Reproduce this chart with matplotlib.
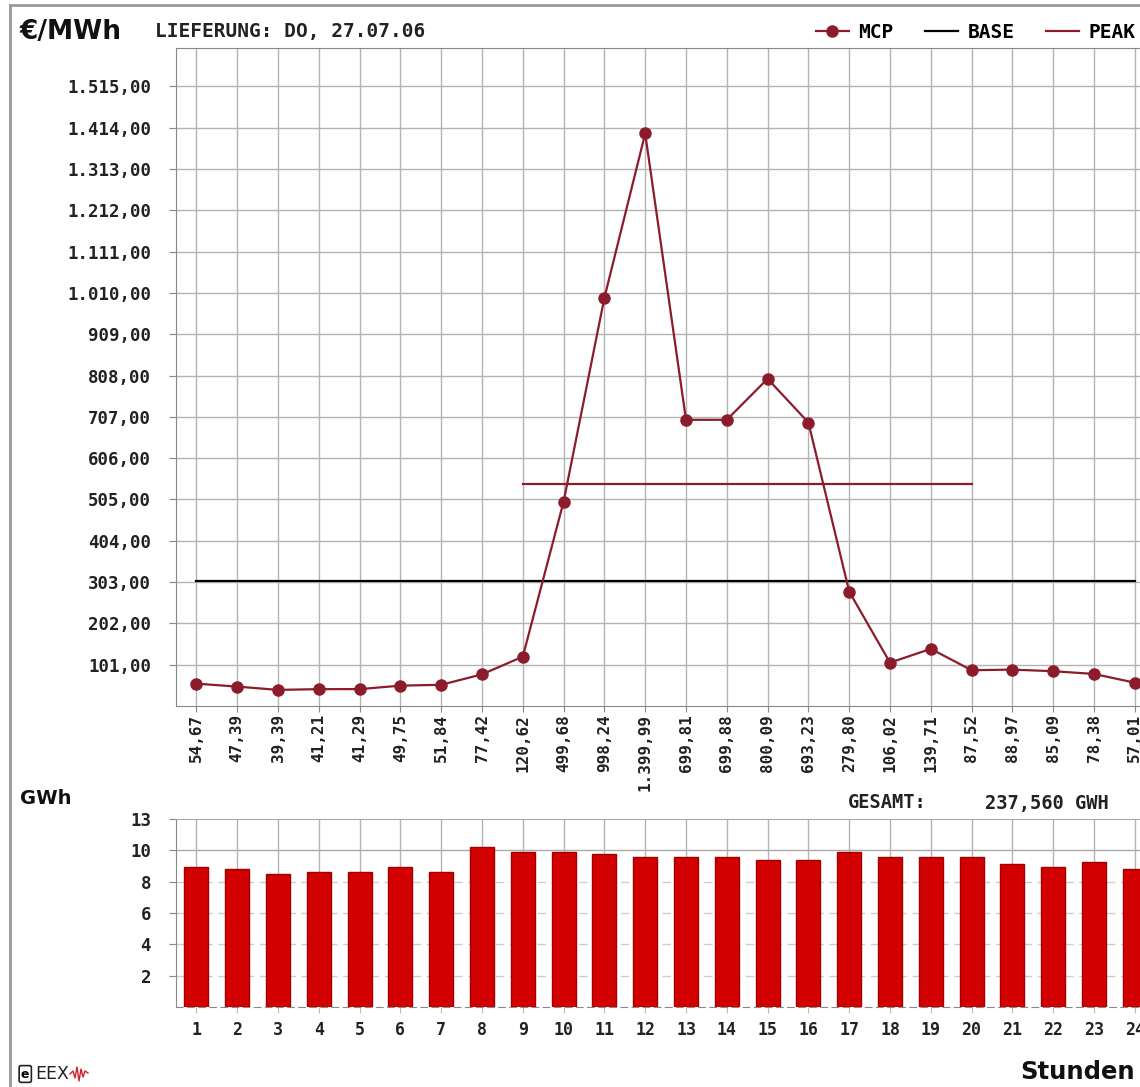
import numpy as np
import matplotlib
matplotlib.use("Agg")
import matplotlib.pyplot as plt
from matplotlib.lines import Line2D

# hourly market clearing price (EUR/MWh), delivery Thu 27.07.06
hours = list(range(1, 25))
mcp = [54.67, 47.39, 39.39, 41.21, 41.29, 49.75, 51.84, 77.42,
       120.62, 499.68, 998.24, 1399.99, 699.81, 699.88, 800.09, 693.23,
       279.80, 106.02, 139.71, 87.52, 88.97, 85.09, 78.38, 57.01]
base_price = 305.0
peak_price = 543.72
peak_hours = [9, 20]

# hourly volume (GWh)
volume = [8.95, 8.8, 8.5, 8.63, 8.63, 8.95, 8.63, 10.2,
          9.9, 9.9, 9.78, 9.6, 9.6, 9.6, 9.4, 9.4,
          9.9, 9.6, 9.6, 9.6, 9.1, 8.95, 9.27, 8.8]
price_ticks = [101 * i for i in range(1, 16)]
vol_ticks = [2, 4, 6, 8, 10, 12]
vol_tick_labels = ["2", "4", "6", "8", "10", "13"]
total_label = "GESAMT:"
total_value = "237,560 GWH"
date_text = "LIEFERUNG: DO, 27.07.06"

MONO = "DejaVu Sans Mono"
DARK_RED = "#8c1c2c"
RED = "#d20000"
GRID = "#b4b4b4"
TXT = "#222222"


def de(v, d=2):
    s = f"{v:,.{d}f}"
    return s.replace(",", "X").replace(".", ",").replace("X", ".")


W, H = 1140, 1087
fig = plt.figure(figsize=(W / 100, H / 100), dpi=100)

# ---- price chart
ax = fig.add_axes([176 / W, 1 - 706 / H, 1 - 176 / W, (706 - 48) / H])
ax.set_xlim(0.5, 0.5 + (W - 176) / 40.8)
ax.set_ylim(0, 1609)
ax.set_xticks(hours)
ax.set_xticklabels([de(v) for v in mcp], rotation=90, fontfamily=MONO,
                   fontsize=11.5, fontweight="bold", color=TXT)
ax.set_yticks(price_ticks)
ax.set_yticklabels([de(v) for v in price_ticks], fontfamily=MONO,
                   fontsize=12.5, fontweight="bold", color=TXT)
ax.tick_params(axis="y", length=5, pad=13, color="#888888")
ax.tick_params(axis="x", length=4, pad=2, color="#888888")
ax.grid(True, color=GRID, linewidth=1)
ax.set_axisbelow(True)
for side in ["left", "bottom", "top"]:
    ax.spines[side].set_color("#888888")
ax.spines["right"].set_visible(False)

ax.plot([hours[0], hours[-1]], [base_price, base_price], color="black", lw=1.6)
ax.plot(peak_hours, [peak_price, peak_price], color=DARK_RED, lw=1.6)
ax.plot(hours, mcp, color=DARK_RED, lw=1.6, marker="o", markersize=8,
        markerfacecolor=DARK_RED, markeredgecolor=DARK_RED, clip_on=False)

# ---- volume chart
bx = fig.add_axes([176 / W, 1 - 1007 / H, 1 - 176 / W, (1007 - 819) / H])
bx.set_xlim(ax.get_xlim())
bx.set_ylim(0, 12)
bx.bar(hours, volume, width=0.59, color=RED, edgecolor="#a00000", linewidth=1, zorder=3)
bx.set_xticks(hours)
bx.set_xticklabels([str(h) for h in hours], fontfamily=MONO, fontsize=12,
                   fontweight="bold", color=TXT)
bx.set_yticks(vol_ticks)
bx.set_yticklabels(vol_tick_labels, fontfamily=MONO, fontsize=12.5,
                   fontweight="bold", color=TXT)
bx.tick_params(axis="y", length=5, pad=13, color="#888888")
bx.tick_params(axis="x", length=4, pad=6, color="#bbbbbb")
bx.grid(True, axis="x", color=GRID, linewidth=1, zorder=0)
for v in vol_ticks[:-2]:
    bx.axhline(v, color="#cccccc", lw=1, ls=(0, (6, 4)), zorder=0)
bx.axhline(10, color="#aaaaaa", lw=1, zorder=0)
bx.spines["top"].set_color("#aaaaaa")
bx.spines["left"].set_color("#888888")
bx.spines["bottom"].set_color("#888888")
bx.spines["bottom"].set_linestyle((0, (6, 4)))
bx.spines["right"].set_visible(False)

# ---- texts
fig.text(20 / W, 1 - 32 / H, "€/MWh", fontsize=19, fontweight="bold", va="center", color="#111111")
fig.text(155 / W, 1 - 32 / H, date_text, fontfamily=MONO, fontsize=14,
         fontweight="bold", va="center", color=TXT)
fig.text(20 / W, 1 - 798 / H, "GWh", fontsize=14, fontweight="bold", va="center", color="#111111")
fig.text(848 / W, 1 - 803 / H, total_label, fontfamily=MONO, fontsize=13.5,
         fontweight="bold", va="center", color=TXT)
fig.text(985 / W, 1 - 803 / H, total_value, fontfamily=MONO, fontsize=13.5,
         fontweight="bold", va="center", color=TXT)
fig.text(1020 / W, 1 - 1072 / H, "Stunden", fontsize=17.5, fontweight="bold", va="center", color="#111111")
fig.text(21 / W, 1 - 1074 / H, "e", fontsize=9, fontweight="bold", va="center",
         bbox=dict(boxstyle="round,pad=0.15", fc="white", ec="#222222", lw=1.2))
fig.text(35 / W, 1 - 1074 / H, "EEX", fontsize=12.5, va="center", color="#222222")

# small red wave next to the logo
wx = np.array([70, 73, 75, 77, 79, 81, 83, 85, 88]) / W
wy = 1 - np.array([1074, 1071, 1078, 1067, 1081, 1069, 1077, 1071, 1073]) / H
fig.add_artist(Line2D(wx, wy, color="#d02030", lw=1))

# legend
handles = [Line2D([], [], color=DARK_RED, lw=1.6, marker="o", markersize=8),
           Line2D([], [], color="black", lw=1.6),
           Line2D([], [], color=DARK_RED, lw=1.6)]
fig.legend(handles, ["MCP", "BASE", "PEAK"], loc="center left",
           bbox_to_anchor=(798 / W, 1 - 32 / H), ncol=3, frameon=False,
           handlelength=1.7, handletextpad=0.5, columnspacing=1.6,
           prop=dict(family=MONO, size=14, weight="bold"))

# outer frame of the original widget
fig.add_artist(Line2D([10 / W, 1], [1 - 5 / H, 1 - 5 / H], color="#999999", lw=2))
fig.add_artist(Line2D([10 / W, 10 / W], [0, 1 - 5 / H], color="#999999", lw=2))

fig.savefig("out.png", dpi=100)
